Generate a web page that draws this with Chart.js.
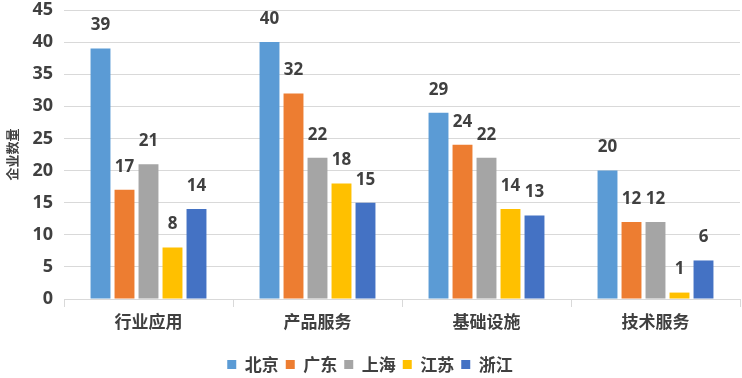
<!DOCTYPE html>
<html>
<head>
<meta charset="utf-8">
<script src="https://cdn.jsdelivr.net/npm/chart.js@4"></script>
<style>
  html, body { margin: 0; padding: 0; background: #fff; }
  #wrap { width: 742px; height: 378px; position: relative; }
</style>
</head>
<body>
<div id="wrap"><canvas id="chart"></canvas></div>
<script>
// categories and series
const categories = ['行业应用', '产品服务', '基础设施', '技术服务'];
const beijing  = [39, 40, 29, 20];
const guangdong = [17, 32, 24, 12];
const shanghai = [21, 22, 22, 12];
const jiangsu  = [8, 18, 14, 1];
const zhejiang = [14, 15, 13, 6];
const yTicks = [0, 5, 10, 15, 20, 25, 30, 35, 40, 45];

const FONT = '"Open Sans", "Noto Sans CJK SC", sans-serif';
const CJK = '"Noto Sans CJK SC", sans-serif';

// value labels above each bar
const barLabels = {
    id: 'barLabels',
    afterDatasetsDraw(chart) {
        const ctx = chart.ctx;
        ctx.save();
        ctx.font = 'bold 17px ' + FONT;
        ctx.fillStyle = '#404040';
        ctx.textAlign = 'center';
        ctx.textBaseline = 'middle';
        chart.data.datasets.forEach((ds, i) => {
            const meta = chart.getDatasetMeta(i);
            meta.data.forEach((bar, j) => {
                ctx.fillText(ds.data[j], bar.x, bar.y - 23);
            });
        });
        ctx.restore();
    }
};

new Chart(document.getElementById('chart'), {
    type: 'bar',
    data: {
        labels: categories,
        datasets: [
            { label: '北京', data: beijing, backgroundColor: '#5B9BD5' },
            { label: '广东', data: guangdong, backgroundColor: '#ED7D31' },
            { label: '上海', data: shanghai, backgroundColor: '#A5A5A5' },
            { label: '江苏', data: jiangsu, backgroundColor: '#FFC000' },
            { label: '浙江', data: zhejiang, backgroundColor: '#4472C4' }
        ]
    },
    options: {
        responsive: true,
        maintainAspectRatio: false,
        animation: false,
        layout: { padding: { top: 10, right: 2, bottom: 0, left: 0 } },
        datasets: {
            bar: { categoryPercentage: 0.71, barPercentage: 0.83 }
        },
        plugins: {
            tooltip: { enabled: false },
            legend: {
                position: 'bottom',
                maxHeight: 29,
                labels: {
                    boxWidth: 9,
                    boxHeight: 9,
                    padding: 7,
                    color: '#404040',
                    font: { family: CJK, size: 17, weight: 'bold' }
                }
            }
        },
        scales: {
            x: {
                afterFit: scale => { scale.height = 50; },
                grid: {
                    drawOnChartArea: false,
                    drawTicks: true,
                    tickLength: 8,
                    color: '#d9d9d9'
                },
                border: { color: '#d9d9d9' },
                ticks: {
                    color: '#404040',
                    padding: 4,
                    font: { family: CJK, size: 17, weight: 'bold' }
                }
            },
            y: {
                min: 0,
                max: 45,
                afterBuildTicks: scale => {
                    scale.ticks = yTicks.map(v => ({ value: v }));
                },
                afterFit: scale => {
                    scale.width = 64;
                    scale.paddingTop = 0;
                    scale.paddingBottom = 0;
                },
                grid: { color: '#d9d9d9', drawTicks: false },
                border: { display: false },
                ticks: {
                    color: '#404040',
                    padding: 11,
                    font: { family: FONT, size: 18, weight: 'bold' }
                },
                title: {
                    display: true,
                    text: '企业数量',
                    color: '#404040',
                    padding: { top: 4, bottom: 0 },
                    font: { family: CJK, size: 13, weight: 'bold' }
                }
            }
        }
    },
    plugins: [barLabels]
});
</script>
</body>
</html>
